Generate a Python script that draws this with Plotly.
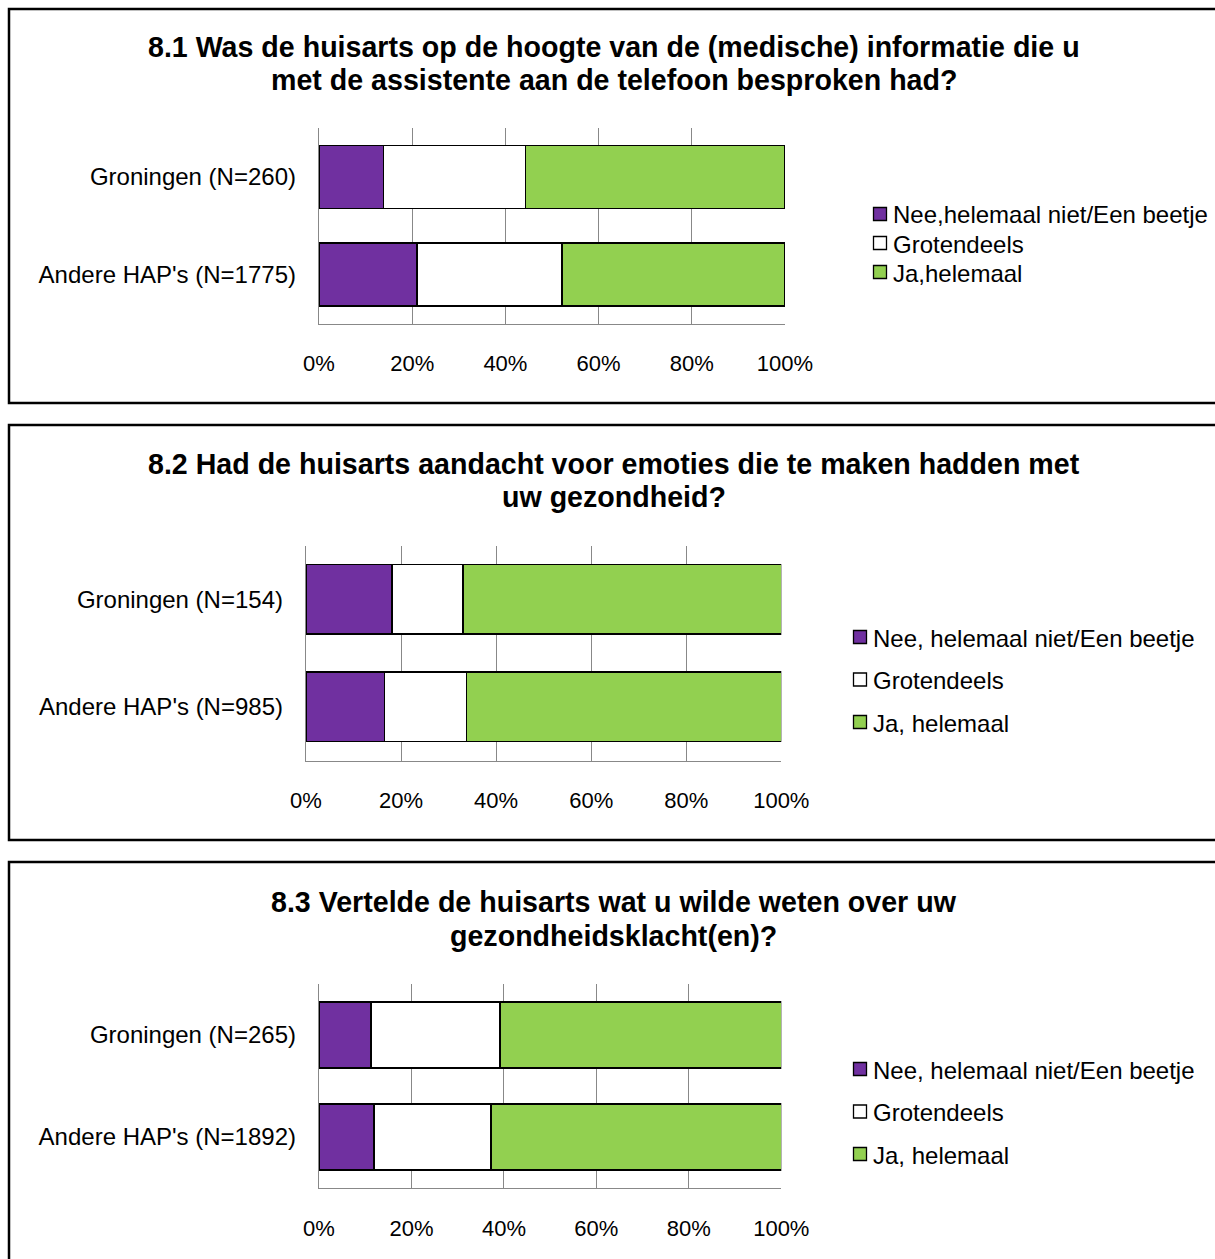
import plotly.graph_objects as go

W, H = 1215, 1259

# ---------------- data ----------------
cats1 = ["Groningen (N=260)", "Andere HAP's (N=1775)"]
nee1 = [13.8, 21.0]
groot1 = [30.5, 31.2]
ja1 = [55.7, 47.8]

cats2 = ["Groningen (N=154)", "Andere HAP's (N=985)"]
nee2 = [18.1, 16.5]
groot2 = [14.9, 17.3]
ja2 = [67.0, 66.2]

cats3 = ["Groningen (N=265)", "Andere HAP's (N=1892)"]
nee3 = [11.3, 11.9]
groot3 = [27.9, 25.3]
ja3 = [60.8, 62.8]

legend1 = ["Nee,helemaal niet/Een beetje", "Grotendeels", "Ja,helemaal"]
legend23 = ["Nee, helemaal niet/Een beetje", "Grotendeels", "Ja, helemaal"]

title1 = ["8.1 Was de huisarts op de hoogte van de (medische) informatie die u",
          "met de assistente aan de telefoon besproken had?"]
title2 = ["8.2 Had de huisarts aandacht voor emoties die te maken hadden met",
          "uw gezondheid?"]
title3 = ["8.3 Vertelde de huisarts wat u wilde weten over uw",
          "gezondheidsklacht(en)?"]

xticks = [0, 20, 40, 60, 80, 100]
xticklabels = ["0%", "20%", "40%", "60%", "80%", "100%"]

# ---------------- style ----------------
PURPLE = "#7030A0"
WHITE = "#FFFFFF"
GREEN = "#92D050"
GRID = "#888888"
FONT = "Liberation Sans, Arial, sans-serif"
colors = [PURPLE, WHITE, GREEN]


def px_x(x):
    return x / W


def px_y(y):
    return 1 - y / H


panels = [
    dict(cats=cats1, series=[nee1, groot1, ja1], labels=legend1, title=title1,
         x0=319, x1=785, y0=128, y1=323.5, title_y=(47, 80),
         leg_x=873.5, leg_y=(214, 243, 272)),
    dict(cats=cats2, series=[nee2, groot2, ja2], labels=legend23, title=title2,
         x0=306, x1=781.3, y0=545.5, y1=760.7, title_y=(464, 497),
         leg_x=853.5, leg_y=(637, 679.5, 722)),
    dict(cats=cats3, series=[nee3, groot3, ja3], labels=legend23, title=title3,
         x0=319, x1=781.3, y0=984, y1=1188, title_y=(902, 936),
         leg_x=853.5, leg_y=(1069, 1111.5, 1154)),
]

borders = [(9, 9, 403), (9, 425, 840), (9, 862, 1275)]

fig = go.Figure()
shapes = []
annotations = []

for i, p in enumerate(panels):
    k = "" if i == 0 else str(i + 1)
    for s, (vals, lab, col) in enumerate(zip(p["series"], p["labels"], colors)):
        fig.add_trace(go.Bar(
            x=vals, y=p["cats"], orientation="h", name=lab,
            marker=dict(color=col, line=dict(color="black", width=1.6)),
            xaxis="x" + k, yaxis="y" + k, showlegend=False,
        ))
    fig.update_layout(**{
        "xaxis" + k: dict(
            domain=[px_x(p["x0"]), px_x(p["x1"])], range=[0, 100],
            anchor="y" + k, tickmode="array", tickvals=xticks, ticktext=xticklabels,
            showgrid=True, gridcolor=GRID, gridwidth=1.2,
            showline=True, linecolor=GRID, linewidth=1.4, zeroline=False,
            ticks="", ticklabelstandoff=20, fixedrange=True, automargin=False,
            tickfont=dict(family=FONT, size=22, color="black"),
        ),
        "yaxis" + k: dict(
            domain=[px_y(p["y1"]), px_y(p["y0"])], anchor="x" + k,
            type="category", categoryorder="array", categoryarray=p["cats"],
            autorange="reversed", showgrid=False,
            showline=True, linecolor=GRID, linewidth=1.4, zeroline=False,
            ticks="", ticklabelstandoff=17, fixedrange=True, automargin=False,
            tickfont=dict(family=FONT, size=24, color="black"),
        ),
    })
    # titles
    for line, ty in zip(p["title"], p["title_y"]):
        annotations.append(dict(
            text="<b>" + line + "</b>", x=px_x(613.5), y=px_y(ty),
            xref="paper", yref="paper", xanchor="center", yanchor="middle",
            showarrow=False, font=dict(family=FONT, size=28.6, color="black"),
        ))
    # custom legend
    for lab, col, ly in zip(p["labels"], colors, p["leg_y"]):
        sq = 13
        shapes.append(dict(
            type="rect", xref="paper", yref="paper",
            x0=px_x(p["leg_x"]), x1=px_x(p["leg_x"] + sq),
            y0=px_y(ly + sq / 2), y1=px_y(ly - sq / 2),
            fillcolor=col, line=dict(color="black", width=1.3),
        ))
        annotations.append(dict(
            text=lab, x=px_x(p["leg_x"] + sq + 4), y=px_y(ly + 1),
            xref="paper", yref="paper", xanchor="left", yanchor="middle",
            showarrow=False, font=dict(family=FONT, size=24, color="black"),
        ))

for bx, by0, by1 in borders:
    shapes.append(dict(
        type="rect", xref="paper", yref="paper",
        x0=px_x(bx), x1=px_x(W + 20), y0=px_y(by1), y1=px_y(by0),
        line=dict(color="black", width=2.5), fillcolor="rgba(0,0,0,0)",
        layer="below",
    ))

fig.update_layout(
    template="none",
    width=W, height=H,
    margin=dict(l=0, r=0, t=0, b=0, autoexpand=False),
    paper_bgcolor="white", plot_bgcolor="white",
    barmode="stack", bargap=0.355,
    font=dict(family=FONT, color="black"),
    shapes=shapes, annotations=annotations,
    showlegend=False,
)

fig.write_html("out.html")
